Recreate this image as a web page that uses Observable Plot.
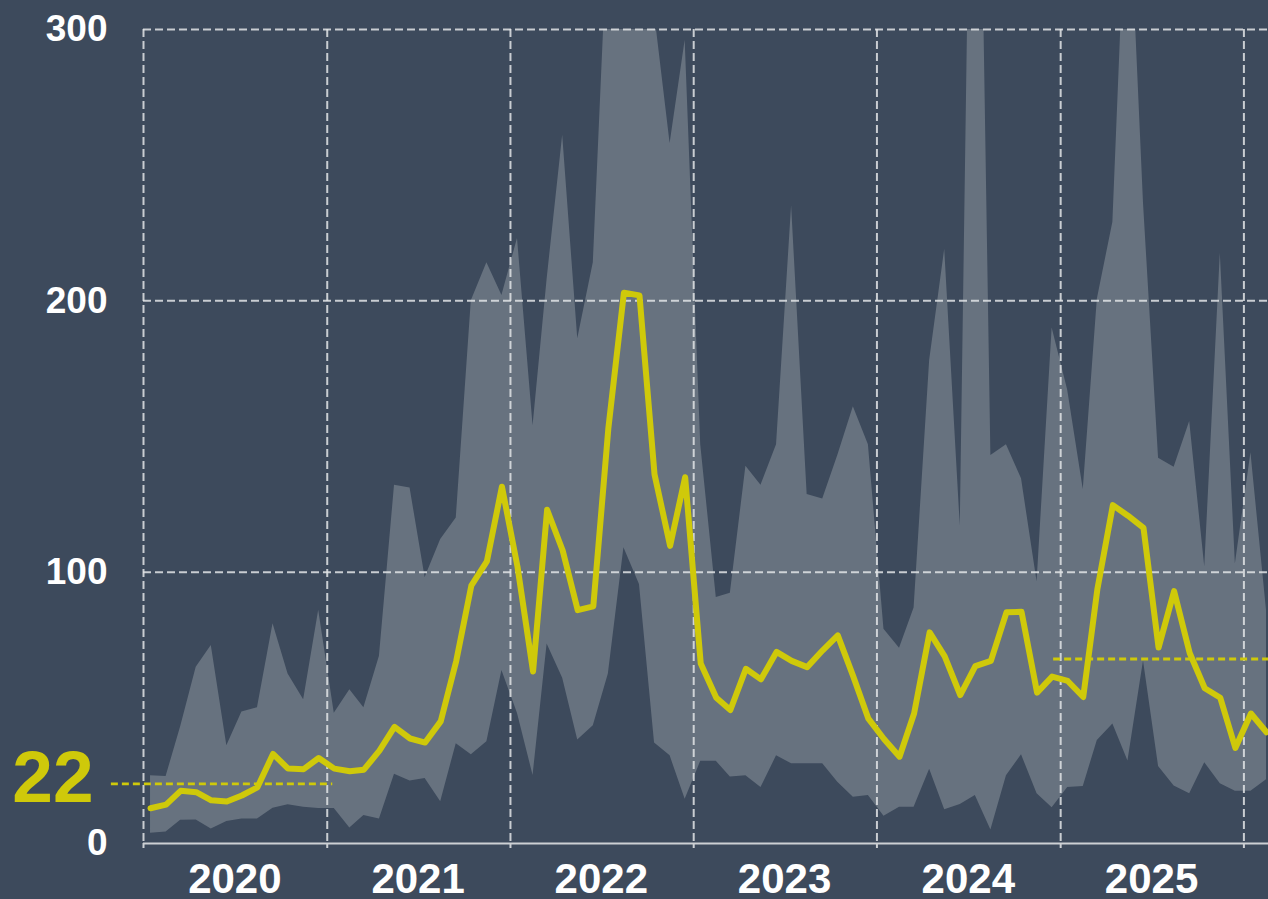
<!DOCTYPE html>
<html>
<head>
<meta charset="utf-8">
<script src="https://cdn.jsdelivr.net/npm/d3@7"></script>
<script src="https://cdn.jsdelivr.net/npm/@observablehq/plot@0.6"></script>
<style>
  html, body { margin: 0; padding: 0; background: #3d4a5c; }
  #chart svg { display: block; }
</style>
</head>
<body>
<div id="chart"></div>
<script>
// Monthly observations (mid-month)
const months = [
  "2020-01","2020-02","2020-03","2020-04","2020-05","2020-06","2020-07","2020-08","2020-09","2020-10","2020-11","2020-12",
  "2021-01","2021-02","2021-03","2021-04","2021-05","2021-06","2021-07","2021-08","2021-09","2021-10","2021-11","2021-12",
  "2022-01","2022-02","2022-03","2022-04","2022-05","2022-06","2022-07","2022-08","2022-09","2022-10","2022-11","2022-12",
  "2023-01","2023-02","2023-03","2023-04","2023-05","2023-06","2023-07","2023-08","2023-09","2023-10","2023-11","2023-12",
  "2024-01","2024-02","2024-03","2024-04","2024-05","2024-06","2024-07","2024-08","2024-09","2024-10","2024-11","2024-12",
  "2025-01","2025-02","2025-03","2025-04","2025-05","2025-06","2025-07","2025-08","2025-09","2025-10","2025-11","2025-12",
  "2026-01","2026-02"
];

// Lower edge of the band
const low = [
  3.8, 4.2, 8.6, 8.7, 5.3, 8.1, 9, 9, 13, 14.3, 13.4, 12.9,
  12.9, 5.7, 10.3, 9, 25.5, 23, 24, 15.4, 36.8, 32.7, 37.5, 63.8,
  47.9, 25.1, 73.5, 60.9, 38.1, 43.4, 62.5, 109, 95.5, 37, 32.3, 16.3,
  30.3, 30.3, 24.5, 25, 20.6, 32.3, 29.4, 29.4, 29.4, 22.6, 17, 17.7,
  10, 13.4, 13.4, 27.4, 12.4, 14.4, 17.7, 5, 25, 32.7, 18.3, 13.2,
  20.6, 21, 38, 44, 30.4, 67.3, 28.4, 21.2, 18.3, 29.8, 22, 19.3,
  19.3, 23.5
];

// Median line
const median = [
  13, 14.3, 19.4, 18.9, 15.9, 15.5, 17.7, 20.7, 33, 27.6, 27.4, 31.5,
  27.6, 26.6, 27.2, 34.2, 43, 38.7, 37.2, 45, 67.3, 95, 104, 131.5,
  102, 63.4, 123, 108, 86, 87.4, 153, 203, 202, 136, 109.7, 135,
  66.3, 53.7, 49.2, 64.4, 60.5, 70.6, 67.3, 65, 71.2, 76.7, 61.5, 46,
  38.5, 32, 47.9, 77.8, 69, 54.7, 65.4, 67.3, 85.2, 85.4, 55.6, 61.5,
  59.9, 54, 93.6, 124.7, 120.8, 116.3, 72.2, 93, 70.2, 57.2, 53.7, 35.2,
  47.9, 41
];

// Upper edge of the band
const high = [
  25, 24.7, 43, 65, 73, 36, 48.5, 50, 81, 62.5, 53, 86,
  48, 56.7, 50, 69, 132, 131, 98, 112, 120, 200, 214, 202,
  223, 154, 208, 261, 186, 214, 340, 380, 350, 306, 258, 296,
  147, 90.7, 92.2, 139, 132, 147, 235, 128.6, 127, 143, 161, 147,
  79, 72, 86.8, 178, 219, 117, 500, 143, 147, 134.4, 96.5, 190,
  167, 130.5, 200.6, 229, 365, 236, 142, 138.7, 155.5, 102, 217.5, 103,
  144, 86
];

const yTicks = [0, 100, 200, 300];
const years = [2020, 2021, 2022, 2023, 2024, 2025];
const refYears = [2020, 2025];
const refValues = [22, 68];
const refLabels = ["22", null];

const yellow = "#cfc90a";
const bandColor = "#67727f";
const gridColor = "#e2e4e6";
const bg = "#3d4a5c";

const data = months.map((m, i) => ({
  date: new Date(m + "-15T00:00:00Z"),
  low: low[i], med: median[i], high: high[i]
}));
const yearStarts = [...years, 2026].map(y => new Date(Date.UTC(y, 0, 1)));
const yearMids = years.map(y => new Date(Date.UTC(y, 6, 1)));
const xStart = new Date(Date.UTC(2020, 0, 1));
const xEnd = new Date(Date.UTC(2026, 1, 19));

const refs = refYears.map((y, i) => ({
  x1: i === 0 ? d3.utcDay.offset(new Date(Date.UTC(y, 0, 1)), -64) : d3.utcDay.offset(new Date(Date.UTC(y, 0, 1)), -14),
  x2: i === 0 ? d3.utcDay.offset(new Date(Date.UTC(y + 1, 0, 1)), 11) : xEnd,
  value: refValues[i],
  label: refLabels[i]
}));

const chart = Plot.plot({
  width: 1268,
  height: 899,
  marginLeft: 143,
  marginRight: 0,
  marginTop: 29,
  marginBottom: 56,
  x: { type: "utc", domain: [xStart, xEnd] },
  y: { domain: [0, 300] },
  style: {
    background: bg,
    color: "white",
    fontFamily: "'Liberation Sans', Arial, sans-serif",
    fontWeight: "bold"
  },
  marks: [
    Plot.areaY(data, { x: "date", y1: "low", y2: "high", fill: bandColor, clip: true }),
    Plot.gridY([100, 200, 300], { stroke: gridColor, strokeOpacity: 0.85, strokeWidth: 2, strokeDasharray: "8,4" }),
    Plot.gridX(yearStarts, { stroke: gridColor, strokeOpacity: 0.85, strokeWidth: 2, strokeDasharray: "8,4" }),
    Plot.ruleY([0], { stroke: "#cdd0d4", strokeWidth: 2.2 }),
    Plot.axisX({ ticks: yearStarts, tickSize: 5, tickFormat: () => "", stroke: "#cdd0d4", strokeWidth: 2, label: null }),
    Plot.axisX({ ticks: yearMids, tickSize: 0, tickPadding: 20, tickFormat: d3.utcFormat("%Y"), fontSize: 42, fontWeight: "bold", fill: "white", label: null }),
    Plot.axisY({ ticks: yTicks, tickSize: 0, tickPadding: 36, fontSize: 37, fontWeight: "bold", fill: "white", label: null }),
    Plot.lineY(data, { x: "date", y: "med", stroke: yellow, strokeWidth: 6, strokeLinejoin: "round", strokeLinecap: "round" }),
    Plot.ruleY(refs, { x1: "x1", x2: "x2", y: "value", stroke: yellow, strokeWidth: 2.8, strokeDasharray: "7,4" }),
    Plot.text(refs.filter(d => d.label), {
      y: "value", text: "label", frameAnchor: "left", dx: -50, dy: -5,
      textAnchor: "end", fill: yellow, fontSize: 73, fontWeight: "bold"
    })
  ]
});

document.getElementById("chart").append(chart);
</script>
</body>
</html>
